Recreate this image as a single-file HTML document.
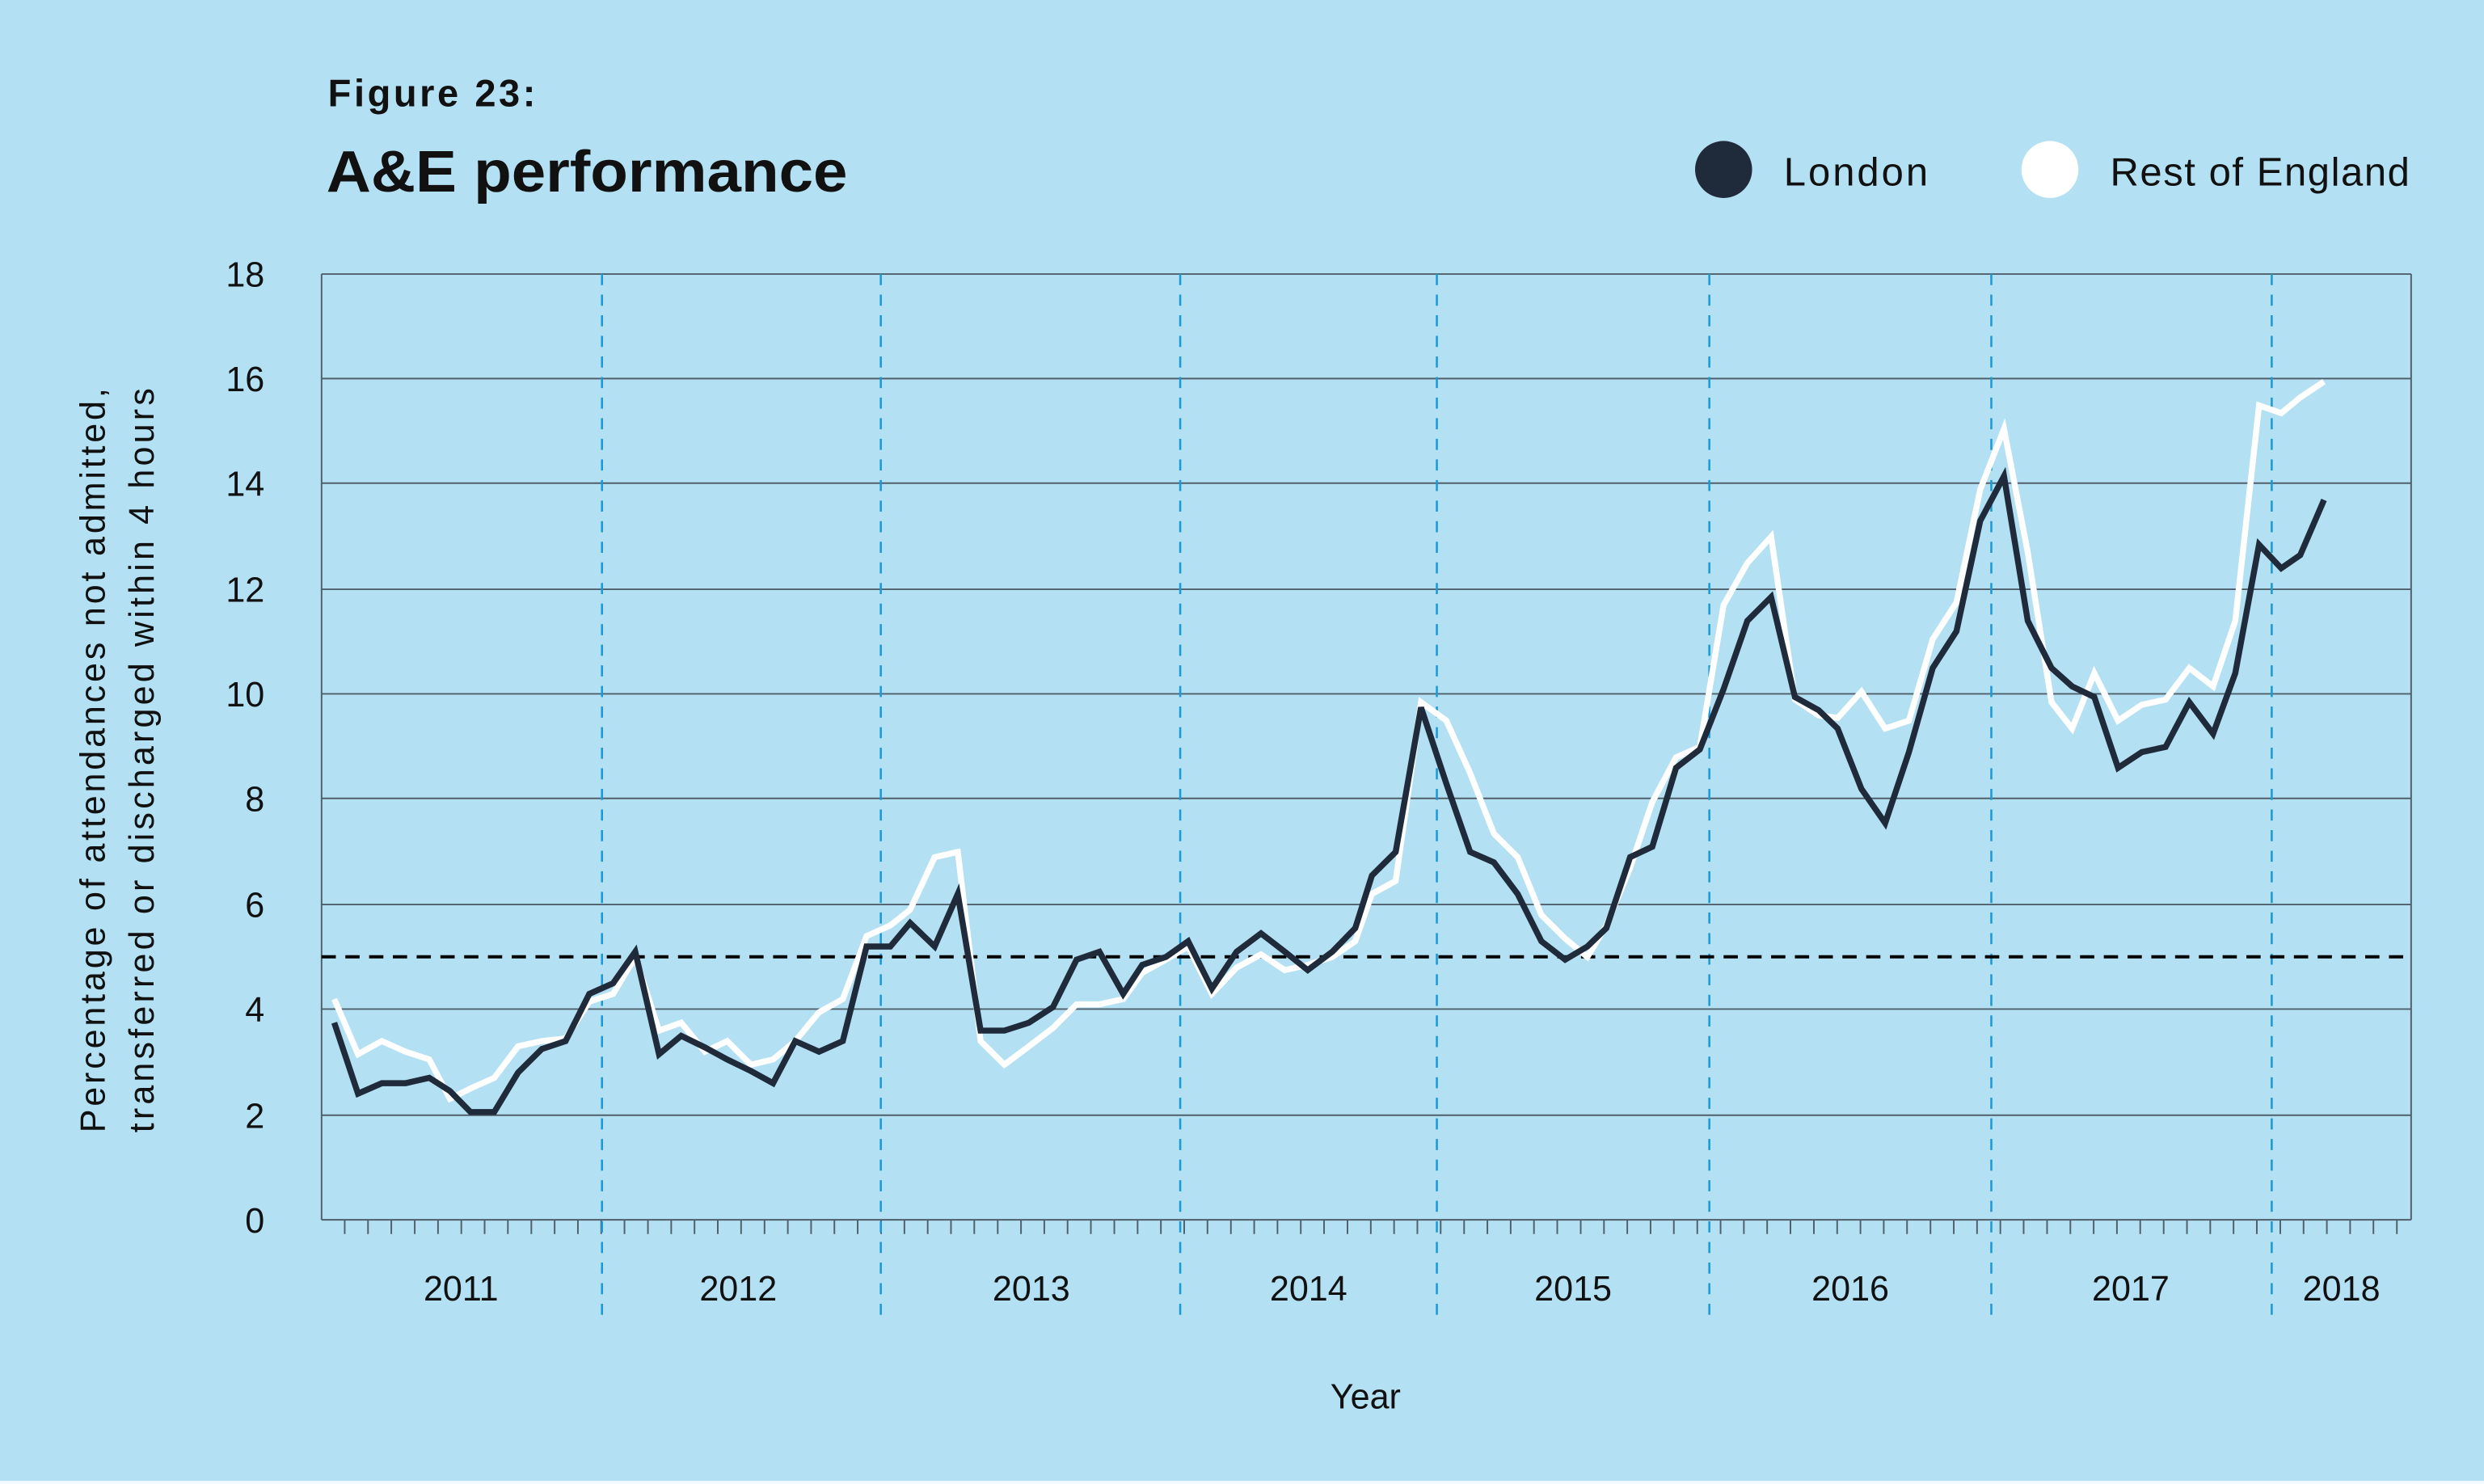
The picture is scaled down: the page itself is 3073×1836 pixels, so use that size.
<!DOCTYPE html>
<html><head><meta charset="utf-8"><style>
html,body{margin:0;padding:0;background:#b3e0f2;}
svg{display:block;}
text{font-family:"Liberation Sans",sans-serif;fill:#111;}
</style></head><body>
<svg width="3073" height="1836" viewBox="0 0 1568 936.8" preserveAspectRatio="none" xmlns="http://www.w3.org/2000/svg">
<rect x="0" y="0" width="1568" height="936.8" fill="#b3e0f2"/>
<rect x="0" y="934.8" width="1568" height="2" fill="#f4fbfe"/>
<text x="207" y="67" font-size="24" font-weight="bold" textLength="131">Figure 23:</text>
<text x="206" y="121" font-size="37" font-weight="bold" textLength="329" lengthAdjust="spacingAndGlyphs">A&amp;E performance</text>
<circle cx="1088" cy="107" r="18" fill="#1f2a3a"/>
<text x="1126" y="117" font-size="25" textLength="91">London</text>
<circle cx="1294" cy="107" r="18" fill="#ffffff"/>
<text x="1332" y="117" font-size="25" textLength="189">Rest of England</text>
<g stroke="#4f5f6b" stroke-width="1">
<line x1="203" y1="173" x2="1522" y2="173"/>
<line x1="203" y1="239" x2="1522" y2="239"/>
<line x1="203" y1="305" x2="1522" y2="305"/>
<line x1="203" y1="372" x2="1522" y2="372"/>
<line x1="203" y1="438" x2="1522" y2="438"/>
<line x1="203" y1="504" x2="1522" y2="504"/>
<line x1="203" y1="571" x2="1522" y2="571"/>
<line x1="203" y1="637" x2="1522" y2="637"/>
<line x1="203" y1="704" x2="1522" y2="704"/>
<line x1="203" y1="770" x2="1522" y2="770"/>
<line x1="203" y1="173" x2="203" y2="770"/>
<line x1="1522" y1="173" x2="1522" y2="770"/>
</g>
<g stroke="#4f5f6b" stroke-width="1" id="ticks"></g>
<g font-size="22" text-anchor="end">
<text x="167" y="181">18</text><text x="167" y="247">16</text><text x="167" y="313">14</text>
<text x="167" y="380">12</text><text x="167" y="446">10</text><text x="167" y="512">8</text>
<text x="167" y="579">6</text><text x="167" y="645">4</text><text x="167" y="712">2</text><text x="167" y="778">0</text>
</g>
<g stroke="#1a9ad6" stroke-width="1.3" stroke-dasharray="7,6">
<line x1="380" y1="173" x2="380" y2="833"/><line x1="556" y1="173" x2="556" y2="833"/>
<line x1="745" y1="173" x2="745" y2="833"/><line x1="907" y1="173" x2="907" y2="833"/>
<line x1="1079" y1="173" x2="1079" y2="833"/><line x1="1257" y1="173" x2="1257" y2="833"/>
<line x1="1434" y1="173" x2="1434" y2="833"/>
</g>
<g font-size="22" text-anchor="middle">
<text x="291" y="821">2011</text><text x="466" y="821">2012</text><text x="651" y="821">2013</text>
<text x="826" y="821">2014</text><text x="993" y="821">2015</text><text x="1168" y="821">2016</text>
<text x="1345" y="821">2017</text><text x="1478" y="821">2018</text>
<text x="862" y="889">Year</text>
</g>
<g font-size="22" text-anchor="middle">
<text transform="translate(66,480) rotate(-90)" textLength="470">Percentage of attendances not admitted,</text>
<text transform="translate(97,480) rotate(-90)" textLength="470">transferred or discharged within 4 hours</text>
</g>
<line x1="203" y1="604" x2="1522" y2="604" stroke="#000" stroke-width="2" stroke-dasharray="9,6"/>
<polyline id="roe" fill="none" stroke="#fff" stroke-width="3.8" stroke-linejoin="miter"/>
<polyline id="lon" fill="none" stroke="#1f2a3a" stroke-width="3.8" stroke-linejoin="miter"/>
</svg>
<script>
var X=[211,226,241,256,271,284,297,312,327,342,357,372,387,401,416,430,445,459,474,488,502,517,532,547,562,574.5,590,604.6,619,634,649.5,664.7,679.6,694,709,721,736,750,765,780.6,796,811,825.5,841,855.5,866,881,897,913,928,943,958,973,988,1002,1014,1029,1043,1058,1073,1088,1103,1118,1133,1148,1160,1175,1190,1205,1220,1235,1250,1265,1280,1295,1308,1322,1337,1352,1367,1382,1397,1411,1426,1440,1452,1467];
var L=[3.75,2.4,2.6,2.6,2.7,2.45,2.05,2.05,2.8,3.25,3.4,4.3,4.5,5.1,3.15,3.5,3.28,3.05,2.83,2.6,3.4,3.2,3.4,5.2,5.2,5.65,5.2,6.2,3.6,3.6,3.75,4.05,4.95,5.1,4.3,4.85,5.0,5.3,4.4,5.1,5.45,5.1,4.75,5.1,5.55,6.55,7.0,9.75,8.3,7.0,6.8,6.2,5.3,4.95,5.2,5.55,6.9,7.1,8.6,8.95,10.1,11.4,11.85,9.95,9.7,9.35,8.2,7.55,8.9,10.5,11.2,13.3,14.15,11.4,10.5,10.15,9.95,8.6,8.9,9.0,9.85,9.25,10.4,12.85,12.4,12.65,13.7];
var R=[4.2,3.15,3.4,3.2,3.05,2.3,2.5,2.7,3.3,3.4,3.45,4.15,4.3,5.0,3.6,3.75,3.2,3.4,2.95,3.05,3.4,3.95,4.2,5.4,5.6,5.9,6.9,7.0,3.4,2.95,3.3,3.65,4.1,4.1,4.2,4.7,4.95,5.2,4.3,4.8,5.05,4.75,4.85,5.0,5.3,6.2,6.45,9.85,9.5,8.5,7.35,6.9,5.8,5.35,5.0,5.6,6.7,7.95,8.8,9.0,11.7,12.5,13.0,9.9,9.6,9.55,10.05,9.35,9.5,11.05,11.75,13.9,15.05,12.7,9.85,9.35,10.4,9.5,9.8,9.9,10.5,10.15,11.4,15.5,15.35,15.65,15.95];
function y(v){return 770-v*33.17;}
function pts(a){return X.map(function(x,i){return x+","+y(a[i]).toFixed(1);}).join(" ");}
document.getElementById("lon").setAttribute("points",pts(L));
document.getElementById("roe").setAttribute("points",pts(R));
var g=document.getElementById("ticks"),s="";
for(var t=217.6;t<1515;t+=14.72){s+='<line x1="'+t.toFixed(1)+'" y1="770" x2="'+t.toFixed(1)+'" y2="779"/>';}
g.innerHTML=s;
</script>
</body></html>
